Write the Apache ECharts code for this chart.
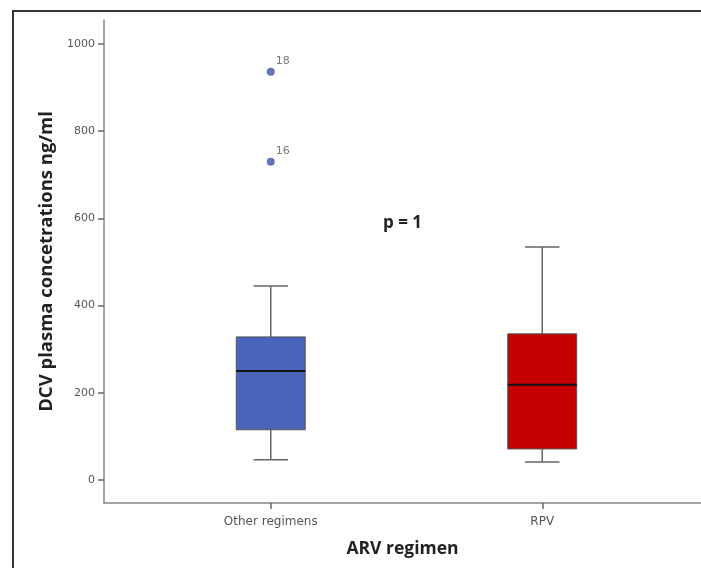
<!DOCTYPE html>
<html>
<head>
<meta charset="utf-8">
<script src="https://cdn.jsdelivr.net/npm/echarts@6/dist/echarts.min.js"></script>
<style>html,body{margin:0;padding:0;background:#fff}#c{width:701px;height:568px}</style>
</head>
<body>
<div id="c"></div>
<script>
// ---- data ----
var categories = ['Other regimens', 'RPV'];
// [low whisker, Q1, median, Q3, high whisker]
var boxOther = [46, 115, 250, 328, 445];
var boxRPV = [41, 71, 218, 335, 534];
var boxColors = ['#4a64bc', '#c40000'];
// outliers: [category index, value, case label]
var outliers = [[0, 936, '18'], [0, 730, '16']];
var yTicks = [0, 200, 400, 600, 800, 1000];
var yAxisTitle = 'DCV plasma concetrations ng/ml';
var xAxisTitle = 'ARV regimen';
var pText = 'p = 1';

var boxes = [boxOther, boxRPV];
var boxData = boxes.map(function (b, i) { return [i].concat(b); });

var chart = echarts.init(document.getElementById('c'));
var FONT = '"Open Sans", "DejaVu Sans", sans-serif';
var TICKFONT = '"DejaVu Sans", sans-serif';
var yMin = -53, yMax = 1055;

chart.setOption({
  animation: false,
  backgroundColor: '#fff',
  title: {
    text: pText, left: 378, top: 210,
    textStyle: { fontFamily: FONT, fontSize: 17, fontWeight: 'bold', color: '#222' }
  },
  graphic: [
    { type: 'polyline', shape: { points: [[13, 568], [13, 11], [701, 11]] },
      style: { stroke: '#333', lineWidth: 2, fill: null } }
  ],
  grid: [
    { left: 104, right: 0, top: 20, bottom: 65 },
    { left: 135, right: 23, top: 20, bottom: 65 }
  ],
  xAxis: [
    { gridIndex: 0, type: 'value', min: 0, max: 1,
      axisLine: { show: true, onZero: false, lineStyle: { color: '#888', width: 1.5 } },
      axisTick: { show: false }, axisLabel: { show: false }, splitLine: { show: false },
      name: xAxisTitle, nameLocation: 'middle', nameGap: 37,
      nameTextStyle: { fontFamily: FONT, fontSize: 17.5, fontWeight: 'bold', color: '#222' } },
    { gridIndex: 1, type: 'category', data: categories, boundaryGap: true,
      axisLine: { show: false, onZero: false },
      axisTick: { show: true, alignWithLabel: true, length: 6, lineStyle: { color: '#666', width: 1.5 } },
      axisLabel: { margin: 13, fontFamily: TICKFONT, fontSize: 12, color: '#555' },
      splitLine: { show: false } }
  ],
  yAxis: [
    { gridIndex: 0, type: 'value', min: yMin, max: yMax,
      axisLine: { show: true, onZero: false, lineStyle: { color: '#888', width: 1.5 } },
      axisTick: { show: true, length: 6, customValues: yTicks, lineStyle: { color: '#666', width: 1.5 } },
      axisLabel: { customValues: yTicks, margin: 9, fontFamily: TICKFONT, fontSize: 11, color: '#555',
        formatter: function (v) { return String(v); } },
      splitLine: { show: false },
      name: yAxisTitle, nameLocation: 'middle', nameGap: 45, nameRotate: 90,
      nameTextStyle: { fontFamily: FONT, fontSize: 18.5, fontWeight: 'bold', color: '#222' } },
    { gridIndex: 1, type: 'value', min: yMin, max: yMax, show: false, splitLine: { show: false } }
  ],
  series: [
    {
      type: 'custom', xAxisIndex: 1, yAxisIndex: 1, data: boxData,
      renderItem: function (params, api) {
        var cat = api.value(0);
        var lo = api.coord([cat, api.value(1)]);
        var q1 = api.coord([cat, api.value(2)]);
        var md = api.coord([cat, api.value(3)]);
        var q3 = api.coord([cat, api.value(4)]);
        var hi = api.coord([cat, api.value(5)]);
        var band = api.size([1, 0])[0];
        var bw = band * 0.254, cw = bw / 2;
        var x = lo[0];
        var wl = { stroke: '#666', lineWidth: 1.5 };
        return { type: 'group', children: [
          { type: 'line', shape: { x1: x, y1: hi[1], x2: x, y2: q3[1] }, style: wl },
          { type: 'line', shape: { x1: x, y1: q1[1], x2: x, y2: lo[1] }, style: wl },
          { type: 'line', shape: { x1: x - cw / 2, y1: hi[1], x2: x + cw / 2, y2: hi[1] }, style: wl },
          { type: 'line', shape: { x1: x - cw / 2, y1: lo[1], x2: x + cw / 2, y2: lo[1] }, style: wl },
          { type: 'rect', shape: { x: x - bw / 2, y: q3[1], width: bw, height: q1[1] - q3[1] },
            style: { fill: boxColors[cat], stroke: '#555', lineWidth: 1 } },
          { type: 'line', shape: { x1: x - bw / 2, y1: md[1], x2: x + bw / 2, y2: md[1] },
            style: { stroke: '#111', lineWidth: 2 } }
        ]};
      }
    },
    {
      type: 'scatter', xAxisIndex: 1, yAxisIndex: 1,
      data: outliers.map(function (o) { return { value: [o[0], o[1]], name: o[2] }; }),
      symbol: 'circle', symbolSize: 8,
      itemStyle: { color: '#3b53a8' },
      label: { show: true, formatter: '{b}', position: 'right', distance: 1, offset: [0, -11],
        fontFamily: TICKFONT, fontSize: 11, color: '#555' }
    }
  ]
});
</script>
</body>
</html>
